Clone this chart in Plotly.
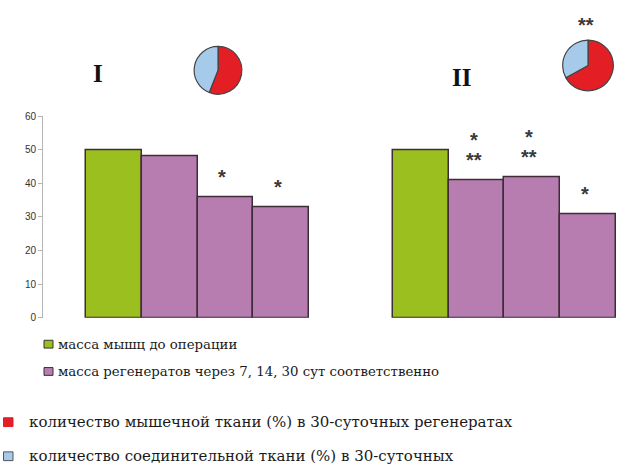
import plotly.graph_objects as go

# Muscle mass before surgery and regenerate mass at 7, 14, 30 days
values_I = [50, 48, 36, 33]
values_II = [50, 41, 42, 31]
marks_I = ["", "", "*", "*"]
marks_II = ["", "**", "**", "*"]
marks_II_upper = ["", "*", "*", ""]
group_titles = ["I", "II"]

# Tissue composition of 30-day regenerates (%)
pie_labels = ["мышечная ткань", "соединительная ткань"]
pie_I = [56, 44]
pie_II = [67, 33]
pie_marks = ["", "**"]

y_ticks = [0, 10, 20, 30, 40, 50, 60]

legend_bars = ["масса мышц до операции",
               "масса регенератов через 7, 14, 30 сут соответственно"]
legend_pies = ["количество мышечной ткани (%) в 30-суточных регенератах",
               "количество соединительной ткани (%) в 30-суточных"]

W, H = 623, 472
GREEN = "#9BBF1F"
PURPLE = "#B87DB0"
RED = "#E31E24"
BLUE = "#A6CBEA"
EDGE = "#3E2C39"
SERIF = "DejaVu Serif, serif"
STAR_FONT = dict(family="Arial", size=20, color="#3a3a3a")

def px(x):
    return x / W

def py(y):
    return 1 - y / H

# bar positions: two groups of four touching bars with a gap between groups
group_gap = 1.5
xs_I = [i for i in range(len(values_I))]
xs_II = [len(values_I) + group_gap + i for i in range(len(values_II))]

fig = go.Figure()
for xs, vals in [(xs_I, values_I), (xs_II, values_II)]:
    fig.add_trace(go.Bar(
        x=xs, y=vals, width=1,
        marker=dict(color=[GREEN] + [PURPLE] * (len(vals) - 1),
                    line=dict(color=EDGE, width=1.5)),
        showlegend=False, hoverinfo="x+y"))

# significance marks above bars (second row stacked above the first)
annotations = []
rows = [(xs_I, values_I, marks_I, 0), (xs_II, values_II, marks_II, 0),
        (xs_II, values_II, marks_II_upper, 20)]
for xs, vals, marks, lift in rows:
    for x, v, m in zip(xs, vals, marks):
        if m:
            annotations.append(dict(
                x=x, y=v, xref="x", yref="y", text="<b>%s</b>" % m,
                showarrow=False, xanchor="center", yanchor="bottom",
                yshift=7 + lift, xshift=-3, font=STAR_FONT))

# group titles
for title, (tx, ty) in zip(group_titles, [(98, 69.5), (461.5, 73)]):
    annotations.append(dict(x=px(tx), y=py(ty), xref="paper", yref="paper",
                            text="<b>%s</b>" % title, showarrow=False,
                            xanchor="center", yanchor="middle",
                            font=dict(family="Liberation Serif, serif", size=25,
                                      color="#111")))

# pies
pie_specs = [(pie_I, 218, 66, 24.5), (pie_II, 588, 61, 26)]
for vals, cx, cy, r in pie_specs:
    fig.add_trace(go.Pie(
        labels=pie_labels, values=vals, sort=False, direction="clockwise",
        rotation=0, textinfo="none", hoverinfo="label+percent",
        marker=dict(colors=[RED, BLUE], line=dict(color="#444444", width=1.2)),
        domain=dict(x=[px(cx - r), px(cx + r)], y=[py(cy + r), py(cy - r)]),
        showlegend=False))
annotations.append(dict(x=px(586), y=py(19), xref="paper", yref="paper",
                        text="<b>%s</b>" % pie_marks[1], showarrow=False,
                        xanchor="center", yanchor="middle", font=STAR_FONT))

# legend
shapes = []
for i, (txt, col) in enumerate(zip(legend_bars, [GREEN, PURPLE])):
    cy = 347 + i * 28
    shapes.append(dict(type="rect", xref="paper", yref="paper",
                       x0=px(44), x1=px(53), y0=py(cy + 4), y1=py(cy - 4),
                       fillcolor=col, line=dict(color="#333", width=1)))
    annotations.append(dict(x=px(56), y=py(cy), xref="paper", yref="paper",
                            text=txt, showarrow=False,
                            xanchor="left", yanchor="middle",
                            font=dict(family=SERIF, size=13.3, color="#1a1a1a")))
for i, (txt, col, lc) in enumerate(zip(legend_pies, [RED, BLUE], [RED, "#555"])):
    cy = 427 + i * 35
    shapes.append(dict(type="rect", xref="paper", yref="paper",
                       x0=px(3.5), x1=px(13), y0=py(cy + 4.5), y1=py(cy - 4.5),
                       fillcolor=col, line=dict(color=lc, width=1)))
    annotations.append(dict(x=px(27), y=py(cy), xref="paper", yref="paper",
                            text=txt, showarrow=False,
                            xanchor="left", yanchor="middle",
                            font=dict(family=SERIF, size=15, color="#1a1a1a")))

fig.update_layout(
    width=W, height=H,
    margin=dict(l=0, r=0, t=0, b=0, pad=0),
    paper_bgcolor="white", plot_bgcolor="white",
    bargap=0,
    xaxis=dict(domain=[px(43), px(616)], range=[-1.27, 9.0], visible=False),
    yaxis=dict(domain=[py(320), py(113)], range=[0, 60], tickvals=y_ticks,
               showline=True, linecolor="#b5b5b5", linewidth=1,
               ticks="outside", ticklen=4, tickcolor="#b5b5b5",
               showgrid=False, zeroline=False,
               tickfont=dict(family="Arial", size=10, color="#333333")),
    annotations=annotations, shapes=shapes,
)

fig.write_html("out.html")
